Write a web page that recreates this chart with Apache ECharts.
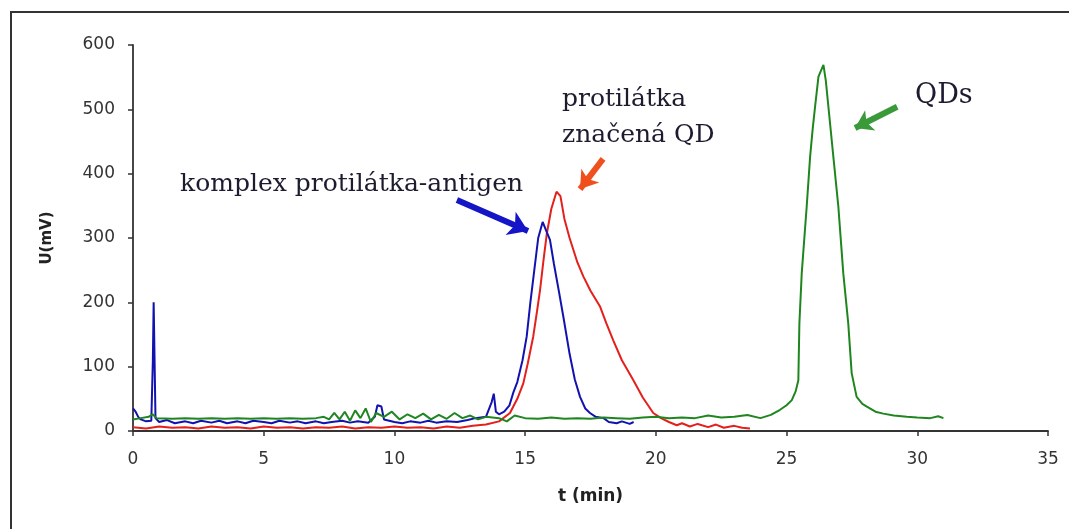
<!DOCTYPE html>
<html>
<head>
<meta charset="utf-8">
<script src="https://cdn.jsdelivr.net/npm/echarts@6/dist/echarts.min.js"></script>
<style>
html,body{margin:0;padding:0;background:#fff;}
#chart{width:1069px;height:529px;}
</style>
</head>
<body>
<div id="chart"></div>
<script>
// komplex protilátka-antigen (blue) [t (min), U (mV)]
var komplexData = [
  [0,35],[0.1,30],[0.2,22],[0.3,18],[0.5,15],[0.7,16],[0.76,110],[0.79,200],[0.83,200],[0.86,20],
  [1.0,14],[1.3,17],[1.6,12],[2.0,15],[2.3,12],[2.6,16],[3.0,13],[3.3,16],[3.6,12],[4.0,15],
  [4.3,12],[4.6,16],[5.0,14],[5.3,12],[5.6,16],[6.0,13],[6.3,15],[6.6,12],[7.0,15],[7.3,12],
  [7.6,14],[8.0,16],[8.3,13],[8.6,15],[9.0,13],[9.25,22],[9.35,40],[9.5,38],[9.6,18],[10.0,14],
  [10.3,12],[10.6,15],[11.0,13],[11.3,16],[11.6,13],[12.0,15],[12.4,14],[12.8,17],[13.1,20],[13.5,22],
  [13.72,45],[13.8,58],[13.88,30],[14.0,26],[14.2,30],[14.4,40],[14.55,60],[14.7,76],[14.9,110],[15.06,147],
  [15.2,200],[15.35,250],[15.5,300],[15.67,325],[15.8,312],[15.95,297],[16.1,260],[16.3,215],[16.46,178],[16.7,120],
  [16.9,80],[17.1,53],[17.3,35],[17.48,28],[17.7,22],[18.0,20],[18.2,14],[18.5,12],[18.7,15],[19.0,11],[19.15,14]
];
// protilátka značená QD (red)
var protilatkaData = [
  [0,6],[0.5,4],[1.0,7],[1.5,5],[2.0,6],[2.5,4],[3.0,7],[3.5,5],[4.0,6],[4.5,4],
  [5.0,7],[5.5,5],[6.0,6],[6.5,4],[7.0,6],[7.5,5],[8.0,7],[8.5,4],[9.0,6],[9.5,5],
  [10.0,7],[10.5,5],[11.0,6],[11.5,4],[12.0,7],[12.5,5],[13.0,8],[13.5,10],[14.0,15],[14.42,28],
  [14.7,50],[14.93,74],[15.1,105],[15.31,147],[15.45,185],[15.57,219],[15.7,265],[15.83,307],[16.0,345],[16.2,372],
  [16.35,365],[16.5,330],[16.7,300],[16.85,281],[17.0,262],[17.23,240],[17.5,218],[17.87,193],[18.1,168],[18.37,141],
  [18.7,110],[19.14,79],[19.5,52],[19.9,28],[20.2,20],[20.5,14],[20.8,9],[21.0,12],[21.3,7],[21.6,11],
  [22.0,6],[22.3,10],[22.6,5],[23.0,8],[23.3,5],[23.6,4]
];
// QDs (green)
var qdsData = [
  [0,18],[0.3,20],[0.6,22],[0.75,26],[0.9,20],[1.5,19],[2.0,20],[2.5,19],[3.0,20],[3.5,19],
  [4.0,20],[4.5,19],[5.0,20],[5.5,19],[6.0,20],[6.5,19],[7.0,20],[7.3,22],[7.5,18],[7.7,28],
  [7.9,18],[8.1,30],[8.3,16],[8.5,32],[8.7,20],[8.9,35],[9.1,14],[9.3,28],[9.6,22],[9.9,30],
  [10.2,18],[10.5,26],[10.8,20],[11.1,27],[11.4,18],[11.7,25],[12.0,19],[12.3,28],[12.6,20],[12.9,24],
  [13.2,18],[13.5,22],[14.0,20],[14.3,15],[14.6,24],[15.0,20],[15.5,19],[16.0,21],[16.5,19],[17.0,20],
  [17.5,19],[18.0,21],[18.5,20],[19.0,19],[19.5,21],[20.0,22],[20.5,20],[21.0,21],[21.5,20],[22.0,24],
  [22.5,21],[23.0,22],[23.5,25],[24.0,20],[24.4,25],[24.75,33],[25.0,40],[25.2,48],[25.35,62],[25.45,79],
  [25.49,167],[25.58,245],[25.68,300],[25.77,349],[25.9,426],[26.0,470],[26.09,504],[26.22,551],[26.41,569],[26.5,545],
  [26.6,504],[26.79,426],[26.98,349],[27.17,245],[27.36,167],[27.49,90],[27.68,53],[27.9,42],[28.07,38],[28.4,30],
  [28.7,27],[29.1,24],[29.6,22],[30.0,21],[30.5,20],[30.8,23],[31.0,20]
];
var xTicks = [0,5,10,15,20,25,30,35];
var yTicks = [0,100,200,300,400,500,600];

var chart = echarts.init(document.getElementById('chart'), null, {renderer:'canvas'});
var labelFont = {fontFamily:'DejaVu Sans', fontSize:17, color:'#333'};
chart.setOption({
  animation:false,
  backgroundColor:'#fff',
  grid:{left:133,right:21,top:45,bottom:98,containLabel:false},
  xAxis:{
    type:'value', min:xTicks[0], max:xTicks[xTicks.length-1], interval:5,
    name:'t (min)', nameLocation:'middle', nameGap:57,
    nameTextStyle:{fontFamily:'DejaVu Sans', fontSize:17, fontWeight:'bold', color:'#222'},
    axisLine:{lineStyle:{color:'#333', width:1.8}},
    axisTick:{show:true, length:5, lineStyle:{color:'#333', width:1.5}},
    axisLabel:Object.assign({margin:20}, labelFont),
    splitLine:{show:false}
  },
  yAxis:{
    type:'value', min:yTicks[0], max:yTicks[yTicks.length-1], interval:100,
    name:'U(mV)', nameLocation:'middle', nameGap:78, nameRotate:90,
    nameTextStyle:{fontFamily:'DejaVu Sans', fontSize:15, fontWeight:'bold', color:'#222'},
    axisLine:{show:true, lineStyle:{color:'#333', width:1.8}},
    axisTick:{show:true, length:5, lineStyle:{color:'#333', width:1.5}},
    axisLabel:Object.assign({margin:18}, labelFont),
    splitLine:{show:false}
  },
  series:[
    {name:'protilátka značená QD', type:'line', data:protilatkaData, showSymbol:false, symbol:'none',
     lineStyle:{color:'#e3201c', width:2}, itemStyle:{color:'#e3201c'}, z:2,
     markLine:{silent:true, symbol:['none','arrow'], symbolSize:[17,17], label:{show:false},
       lineStyle:{color:'#f0501e', width:6, type:'solid'},
       data:[[{coord:[17.98,423]},{coord:[17.10,376]}]]}},
    {name:'komplex protilátka-antigen', type:'line', data:komplexData, showSymbol:false, symbol:'none',
     lineStyle:{color:'#1212b0', width:2}, itemStyle:{color:'#1212b0'}, z:3,
     markLine:{silent:true, symbol:['none','arrow'], symbolSize:[19,19], label:{show:false},
       lineStyle:{color:'#1515c8', width:6, type:'solid'},
       data:[[{coord:[12.39,359]},{coord:[15.11,311]}]]}},
    {name:'QDs', type:'line', data:qdsData, showSymbol:false, symbol:'none',
     lineStyle:{color:'#1f861f', width:2}, itemStyle:{color:'#1f861f'}, z:4,
     markLine:{silent:true, symbol:['none','arrow'], symbolSize:[17,17], label:{show:false},
       lineStyle:{color:'#3a9a3a', width:6, type:'solid'},
       data:[[{coord:[29.23,504]},{coord:[27.62,471]}]]}}
  ],
  graphic:[
    {type:'rect', silent:true, z:-1,
     shape:{x:11, y:12, width:1100, height:600}, style:{fill:'none', stroke:'#333', lineWidth:2}},
    {type:'text', left:180, top:172, silent:true,
     style:{text:'komplex protilátka-antigen', font:'25px "DejaVu Serif"', fill:'#1c1c30'}},
    {type:'text', left:562, top:87, silent:true,
     style:{text:'protilátka', font:'25px "DejaVu Serif"', fill:'#1c1c30'}},
    {type:'text', left:562, top:123, silent:true,
     style:{text:'značená QD', font:'25px "DejaVu Serif"', fill:'#1c1c30'}},
    {type:'text', left:915, top:82, silent:true,
     style:{text:'QDs', font:'27px "DejaVu Serif"', fill:'#1c1c30'}}
  ]
});
</script>
</body>
</html>
